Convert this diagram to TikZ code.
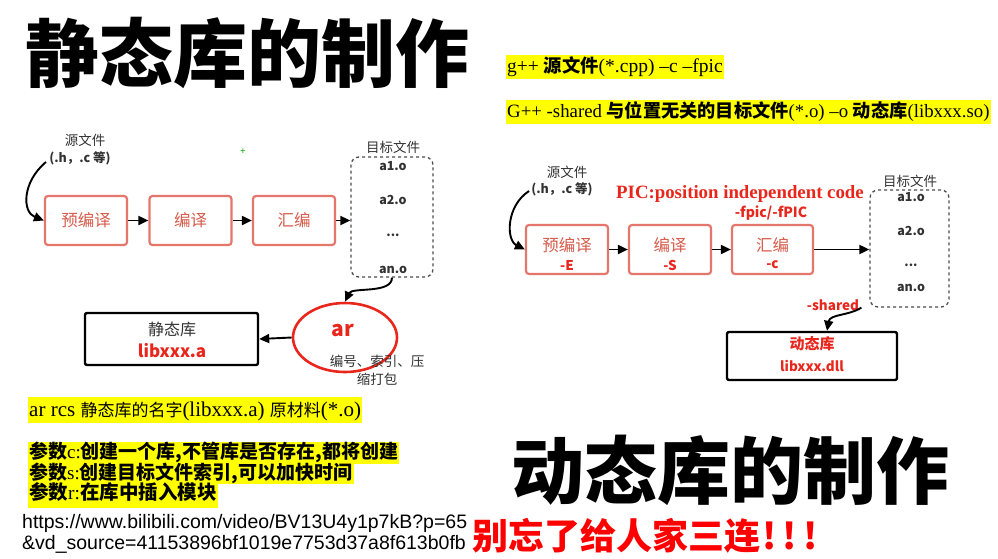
\documentclass[tikz,border=0pt]{standalone}
\usepackage{fontspec}
\setmainfont{Liberation Serif}
\newfontfamily\cjk{Noto Sans CJK SC}
\newfontfamily\arialf{Liberation Sans}
\usetikzlibrary{arrows.meta,shapes.geometric}
\newcommand{\fsz}[1]{\fontsize{#1}{#1}\selectfont}
\definecolor{boxred}{RGB}{228,118,108}
\definecolor{boxtxt}{RGB}{214,92,75}
\definecolor{hired}{RGB}{232,38,28}
\definecolor{hl}{RGB}{255,255,0}
\definecolor{lbl}{RGB}{50,50,50}
\begin{document}
\begin{tikzpicture}[x=1pt,y=-1pt,
  stagebox/.style={draw=boxred,line width=2.2pt,rounded corners=3pt,minimum width=82pt,minimum height=49pt,inner sep=0},
  stagetxt/.style={text=boxtxt,font=\cjk\fsz{16.5},inner sep=0},
  flagtxt/.style={text=hired,font=\cjk\bfseries\fsz{13.5},inner sep=0},
  objbox/.style={draw=black!70,dashed,line width=1.3pt,rounded corners=8pt,inner sep=0},
  objtxt/.style={font=\cjk\bfseries\fsz{12.5},text=lbl,inner sep=0},
  smalllbl/.style={font=\cjk\fsz{13.5},text=lbl,inner sep=0},
  srclbl/.style={font=\cjk\bfseries\fsz{12.5},text=lbl,inner sep=0},
  libbox/.style={draw=black,line width=2.4pt,rounded corners=2pt,inner sep=0},
  arr/.style={line width=1.9pt,-{Triangle[length=10pt,width=9pt]}},
  hlbox/.style={fill=hl,inner xsep=1pt,inner ysep=0.5pt,anchor=base west},
  bigtitle/.style={font=\cjk\bfseries\fsz{74},inner sep=0},
]
\fill[white] (0,0) rectangle (998,558);
\useasboundingbox (0,0) rectangle (998,558);

% titles
\node[bigtitle] (t1) at (247.5,53) {静态库的制作};
\node[bigtitle,font=\cjk\bfseries\fsz{73}] (t2) at (730,470) {动态库的制作};
\node[font=\cjk\bfseries\fsz{36},text=red,inner sep=0] (t3) at (645,536) {别忘了给人家三连\hspace{2pt}!\hspace{6pt}!\hspace{6pt}!};

% command lines (top right)
\node[hlbox,text height=17pt,text depth=6pt] (cmd1) at (506,72.5)
  {\fsz{19.5}g++ {\cjk\bfseries\fsz{18.3}源文件}(*.cpp) –c –fpic};
\node[hlbox,text height=17pt,text depth=6pt] (cmd2) at (506,117.5)
  {\fsz{18.8}G++ -shared {\cjk\bfseries\fsz{18.2}与位置无关的目标文件}(*.o) –o {\cjk\bfseries\fsz{18.2}动态库}(libxxx.so)};

% bottom left lines
\node[hlbox,text height=19pt,text depth=6pt] (arcmd) at (28,416.5)
  {\fsz{21}ar rcs {\cjk\fsz{17}静态库的名字}(libxxx.a) {\cjk\fsz{17}原材料}(*.o)};
\node[hlbox,text height=16pt,text depth=4.5pt] (p1) at (28,458.5)
  {{\cjk\bfseries\fsz{19}参数}\fsz{19}c:{\cjk\bfseries\fsz{19}创建一个库,不管库是否存在,都将创建}};
\node[hlbox,text height=16pt,text depth=4pt] (p2) at (28,479)
  {{\cjk\bfseries\fsz{19}参数}\fsz{19}s:{\cjk\bfseries\fsz{19}创建目标文件索引,可以加快时间}};
\node[hlbox,text height=16pt,text depth=7.5pt] (p3) at (28,499.5)
  {{\cjk\bfseries\fsz{19.5}参数}\fsz{19.5}r:{\cjk\bfseries\fsz{19.5}在库中插入模块}};
\node[font=\arialf\fsz{19.5},anchor=base west,inner sep=0] (url1) at (22,528)
  {https://www.bilibili.com/video/BV13U4y1p7kB?p=65};
\node[font=\arialf\fsz{19.5},anchor=base west,inner sep=0] (url2) at (22,549)
  {\&vd\_source=41153896bf1019e7753d37a8f613b0fb};

% ---------- left diagram (static library) ----------
\node[smalllbl] (srcL1) at (85,140) {源文件};
\node[srclbl] (srcL2) at (80,158) {(.h，.c 等)};
\node[text=green!70!black,font=\bfseries\fsz{10},inner sep=0] (plus) at (243,152) {+};
\coordinate (sL) at (46,162);

\node[stagebox,stagetxt] (pre) at (86,220.5) {预编译};
\node[stagebox,stagetxt] (comp) at (190.5,220.5) {编译};
\node[stagebox,stagetxt] (asm) at (294,220.5) {汇编};

\node[objbox,minimum width=82pt,minimum height=120pt] (dashL) at (392,217) {};
\node[smalllbl] (tgtL) at (393,147) {目标文件};
\node[objtxt] (a1L) at (393,166) {a1.o};
\node[objtxt] (a2L) at (393,200) {a2.o};
\node[objtxt] (dtL) at (393,235) {...};
\node[objtxt] (anL) at (393,270) {an.o};

\node[ellipse,draw=hired,line width=2.6pt,minimum width=104pt,minimum height=69pt,inner sep=0] (ar) at (345,337.5) {};
\node[text=hired,font=\cjk\bfseries\fsz{21},inner sep=0] (arT) at (343,331) {ar};
\node[smalllbl] (arD1) at (377,361) {编号、索引、压};
\node[smalllbl] (arD2) at (377,379) {缩打包};

\node[libbox,minimum width=173pt,minimum height=52pt] (static) at (171.5,339) {};
\node[font=\cjk\fsz{16},text=lbl,inner sep=0] (stA) at (172,329) {静态库};
\node[font=\cjk\bfseries\fsz{17},text=hired,inner sep=0] (stB) at (172,351) {libxxx.a};

\draw[arr] (sL) .. controls (22,182) and (22,212) .. (pre.west);
\draw[arr] (pre.east) -- (comp.west);
\draw[arr] (comp.east) -- (asm.west);
\draw[arr] (asm.east) -- (asm.east -| dashL.west);
\draw[arr] (dashL.south) .. controls (392,294) and (352,287) .. (ar.north);
\draw[arr] (ar.west) -- (static.east);

% ---------- right diagram (dynamic library) ----------
\node[smalllbl] (srcR1) at (567,172) {源文件};
\node[srclbl] (srcR2) at (562,189) {(.h，.c 等)};
\coordinate (sR) at (529,191);

\node[stagebox] (preR) at (567,249.5) {};
\node[stagetxt] (preRt) at (567,245) {预编译};
\node[flagtxt] (preRf) at (567,265) {-E};
\node[stagebox] (compR) at (670,249.5) {};
\node[stagetxt] (compRt) at (670,245) {编译};
\node[flagtxt] (compRf) at (670,265) {-S};
\node[stagebox,minimum width=81pt] (asmR) at (772.5,249.5) {};
\node[stagetxt] (asmRt) at (772.5,245) {汇编};
\node[flagtxt] (asmRf) at (772.5,265) {-c};

\node[text=hired,font=\bfseries\fsz{18.8},inner sep=0] (pic) at (740,194) {PIC:position independent code};
\node[flagtxt,font=\cjk\bfseries\fsz{14}] (fpic) at (771,213) {-fpic/-fPIC};

\node[objbox,minimum width=79pt,minimum height=117pt] (dashR) at (909.5,248.5) {};
\node[smalllbl] (tgtR) at (910,181) {目标文件};
\node[objtxt] (a1R) at (911,197) {a1.o};
\node[objtxt] (a2R) at (911,231) {a2.o};
\node[objtxt] (dtR) at (911,265) {...};
\node[objtxt] (anR) at (911,288) {an.o};

\node[flagtxt,font=\cjk\bfseries\fsz{13.5}] (shared) at (833,305) {-shared};

\node[libbox,minimum width=170pt,minimum height=48pt] (dyn) at (812,356) {};
\node[text=hired,font=\cjk\bfseries\fsz{15},inner sep=0] (dynA) at (812,344) {动态库};
\node[text=hired,font=\cjk\bfseries\fsz{13.5},inner sep=0] (dynB) at (812,366) {libxxx.dll};

\draw[arr] (sR) .. controls (506,206) and (506,240) .. (preR.west);
\draw[arr] (preR.east) -- (compR.west);
\draw[arr] (compR.east) -- (asmR.west);
\draw[arr] (asmR.east) -- (asmR.east -| dashR.west);
\draw[arr] ([xshift=-8pt]dashR.south west) .. controls (848,316) and (830,314) .. ([xshift=15pt]dyn.north);
\end{tikzpicture}
\end{document}
